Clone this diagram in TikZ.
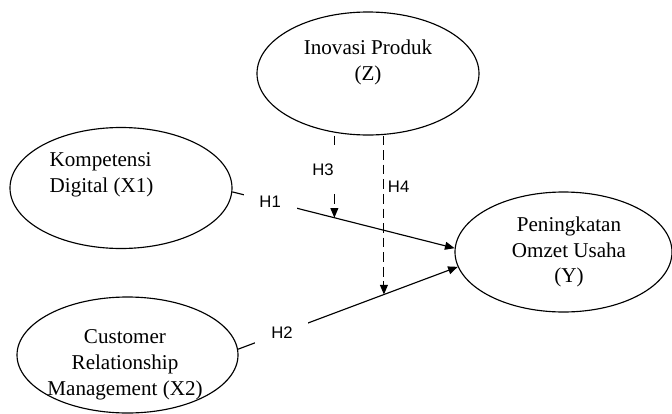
\documentclass[tikz,border=0pt]{standalone}
\usepackage{fontspec}
\setmainfont{Liberation Serif}
\newfontfamily\hypfont{Liberation Sans}
\usetikzlibrary{shapes.geometric, arrows.meta}

\tikzset{
  latent/.style={draw, ellipse, line width=0.65pt, inner sep=0pt},
  txt/.style={align=center, font=\fontsize{12}{14.7}\selectfont},
  hyp/.style={font=\hypfont\fontsize{9.5}{11}\selectfont, fill=white, inner xsep=9pt, inner ysep=5pt},
  effect/.style={line width=0.65pt, -{Triangle[length=5.5pt,width=4.5pt]}},
  moderate/.style={effect, line width=0.6pt, dash pattern=on 5.5pt off 2.8pt},
}

\begin{document}
\begin{tikzpicture}
  \useasboundingbox (0,0) rectangle (13.44,-8.28);

  % constructs
  \node[latent, minimum width=4.44cm, minimum height=2.46cm,
        label={[txt, yshift=0.22cm]center:Inovasi Produk\\(Z)}] (z) at (7.36,-1.47) {};
  \node[latent, minimum width=4.44cm, minimum height=2.42cm,
        label={[txt, align=left, xshift=-0.39cm, yshift=0.26cm]center:Kompetensi\\Digital (X1)}] (x1) at (2.42,-3.76) {};
  \node[latent, minimum width=4.42cm, minimum height=2.32cm,
        label={[txt, xshift=-0.05cm, yshift=-0.19cm]center:Customer\\Relationship\\Management (X2)}] (x2) at (2.55,-7.10) {};
  \node[latent, minimum width=4.34cm, minimum height=2.40cm,
        label={[txt, xshift=0.11cm]center:Peningkatan\\Omzet Usaha\\(Y)}] (y) at (11.27,-5.04) {};

  % direct effects
  \draw[effect] (x1.-2) -- node[hyp, pos=0.17] {H1} coordinate[pos=0.459] (m1) (y.178);
  \draw[effect] (x2.3) -- node[hyp, pos=0.2] {H2} coordinate[pos=0.664] (m2) (y.188);

  % moderation
  \draw[moderate] (z.south -| m1) -- node[hyp, pos=0.42, inner xsep=3pt, inner ysep=9pt, xshift=-6.5pt] {H3} (m1);
  \draw[moderate] (z.south -| m2) -- node[hyp, fill=none, right, pos=0.32, inner sep=2pt] {H4} (m2);
\end{tikzpicture}
\end{document}
